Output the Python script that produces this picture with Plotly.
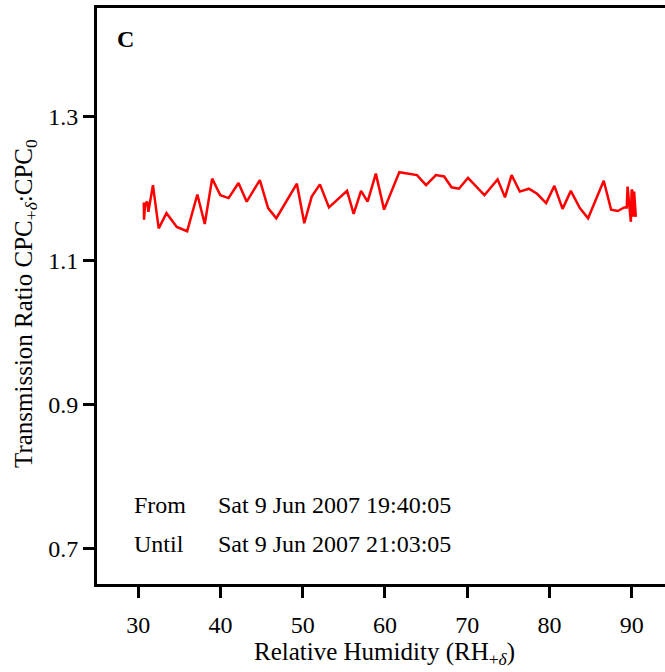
import plotly.graph_objects as go

rh = [30.69, 30.72, 30.85, 31.1, 31.25, 31.8, 32.5, 33.45, 34.7, 35.96, 37.2, 38.1, 39.0, 40.0, 41.0,
      42.2, 43.2, 44.8, 45.8, 46.8, 49.3, 50.2, 51.1, 52.1, 53.2, 55.4, 56.2, 57.1, 57.9, 58.9, 59.9,
      61.75, 63.9, 65.0, 66.2, 67.2, 68.1, 69.0, 70.1, 71.0, 72.1, 73.7, 74.6, 75.4, 76.4, 77.5, 78.5,
      79.6, 80.6, 81.6, 82.6, 83.7, 84.7, 86.6, 87.5, 88.3, 89.1, 89.4, 89.5, 89.9, 90.0, 90.1, 90.2,
      90.3, 90.5]
ratio = [1.181, 1.157, 1.179, 1.182, 1.168, 1.205, 1.145, 1.166, 1.147, 1.141, 1.192, 1.151, 1.214,
         1.191, 1.187, 1.208, 1.182, 1.212, 1.173, 1.159, 1.207, 1.152, 1.189, 1.206, 1.174, 1.197,
         1.165, 1.197, 1.182, 1.221, 1.171, 1.223, 1.219, 1.205, 1.219, 1.217, 1.202, 1.200, 1.215,
         1.204, 1.191, 1.213, 1.188, 1.219, 1.196, 1.200, 1.193, 1.180, 1.204, 1.172, 1.197, 1.173,
         1.159, 1.211, 1.171, 1.169, 1.174, 1.174, 1.203, 1.154, 1.199, 1.196, 1.161, 1.196, 1.161]

x_ticks = [30, 40, 50, 60, 70, 80, 90]
y_ticks = [0.7, 0.9, 1.1, 1.3]
panel_label = "C"
from_label, from_time = "From", "Sat 9 Jun 2007 19:40:05"
until_label, until_time = "Until", "Sat 9 Jun 2007 21:03:05"
x_title = "Relative Humidity (RH<sub>+<i>δ</i></sub>)"
y_title = "Transmission Ratio CPC<sub>+<i>δ</i></sub>:CPC<sub>0</sub>"

W, H = 665, 672
L, T, R, B = 97, 8, 0, 88
pw, ph = W - L - R, H - T - B
FONT = "Liberation Serif, Times New Roman, Times, serif"

def px(x):
    return (x - L) / pw

def py(y):
    return (H - B - y) / ph

fig = go.Figure(go.Scatter(x=rh, y=ratio, mode="lines",
                           line=dict(color="#ff0000", width=2.5)))

annos = [
    dict(text=f"<b>{panel_label}</b>", x=px(125), y=py(39), font=dict(size=24)),
    dict(text=from_label, x=px(132), y=py(505), xanchor="left", font=dict(size=24)),
    dict(text=from_time, x=px(216), y=py(505), xanchor="left", font=dict(size=24)),
    dict(text=until_label, x=px(132), y=py(544), xanchor="left", font=dict(size=24)),
    dict(text=until_time, x=px(216), y=py(544), xanchor="left", font=dict(size=24)),
    dict(text=x_title, x=px(384), y=py(653), font=dict(size=25)),
    dict(text=y_title, x=px(25), y=py(304), textangle=-90, font=dict(size=25)),
]
for a in annos:
    a.update(xref="paper", yref="paper", showarrow=False)
    a.setdefault("xanchor", "center")
    a["yanchor"] = "middle"
    a["font"].update(family=FONT, color="black")

fig.update_layout(
    width=W, height=H,
    margin=dict(l=L, r=R, t=T, b=B, pad=0),
    paper_bgcolor="white", plot_bgcolor="white",
    showlegend=False,
    font=dict(family=FONT, size=24, color="black"),
    annotations=annos,
    xaxis=dict(range=[25, 94.05], tickvals=x_ticks, ticks="outside", ticklen=11, tickwidth=3,
               tickcolor="black", showline=True, linecolor="black", linewidth=3, mirror=True,
               showgrid=False, zeroline=False, tickfont=dict(size=24, family=FONT), ticklabelstandoff=6),
    yaxis=dict(range=[0.651, 1.451], tickvals=y_ticks, tickformat=".1f", ticks="outside", ticklen=11,
               tickwidth=3, tickcolor="black", showline=True, linecolor="black", linewidth=3,
               mirror=False, showgrid=False, zeroline=False, tickfont=dict(size=24, family=FONT)),
)

fig.write_html("out.html")
